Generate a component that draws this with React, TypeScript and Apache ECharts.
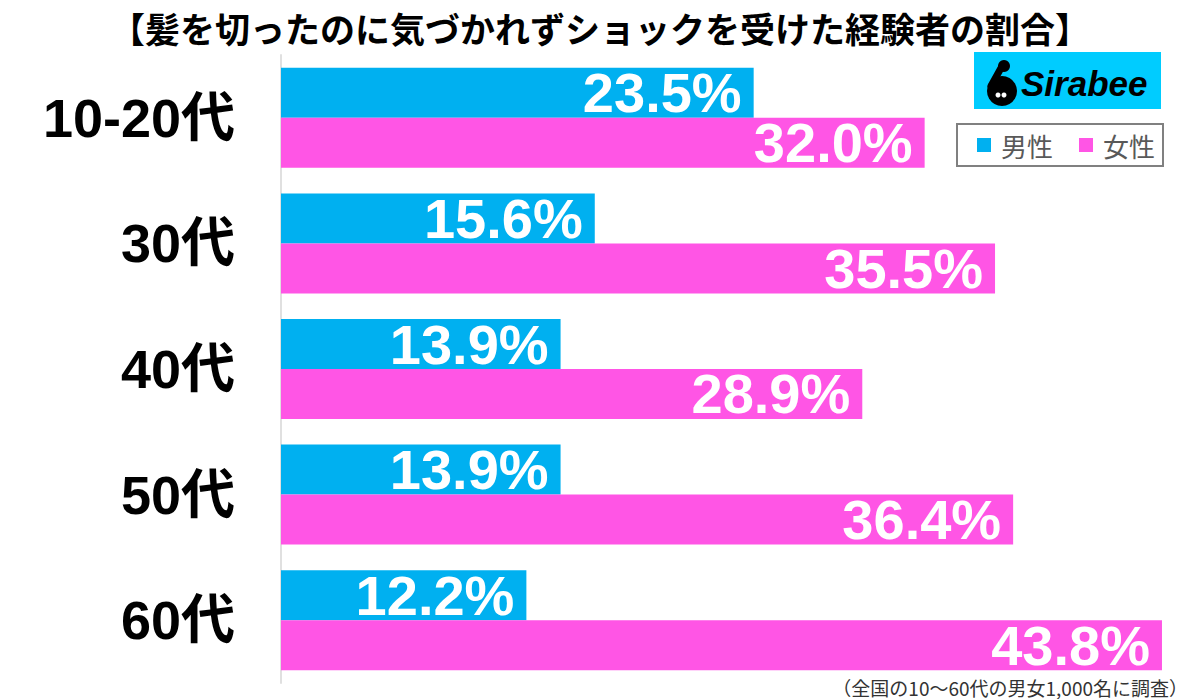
import React, { useEffect, useRef } from "react";
import * as echarts from "echarts";

const categories = ["10-20代", "30代", "40代", "50代", "60代"];
const maleValues = [23.5, 15.6, 13.9, 13.9, 12.2];
const femaleValues = [32.0, 35.5, 28.9, 36.4, 43.8];
const seriesNames = ["男性", "女性"];
const titleText = "【髪を切ったのに気づかれずショックを受けた経験者の割合】";
const noteText = "（全国の10〜60代の男女1,000名に調査）";

const BLUE = "#00B0F0";
const PINK = "#FF55E5";
const LATIN = "'Liberation Sans', Arial, 'Noto Sans CJK JP', sans-serif";
const CJK = "'Noto Sans CJK JP', sans-serif";

export default function App() {
  const ref = useRef<HTMLDivElement>(null);
  useEffect(() => {
    if (!ref.current) return;
    const chart = echarts.init(ref.current, undefined, { renderer: "svg" });
    const label = {
      show: true,
      position: "insideRight",
      distance: 12,
      color: "#fff",
      fontSize: 56,
      fontWeight: "bold",
      fontFamily: LATIN,
      formatter: (p: any) => `${Number(p.value).toFixed(1)}%`,
    };
    chart.setOption({
      animation: false,
      backgroundColor: "#fff",
      title: {
        text: titleText,
        left: "center",
        top: 5,
        textStyle: { fontSize: 35, fontWeight: "bold", fontFamily: CJK, color: "#000" },
      },
      legend: {
        data: seriesNames,
        left: 957,
        top: 124,
        icon: "rect",
        itemWidth: 14,
        itemHeight: 14,
        itemGap: 26,
        padding: [8, 8, 8, 20],
        borderColor: "#808080",
        borderWidth: 2,
        textStyle: { fontSize: 26, color: "#595959", fontFamily: CJK, padding: [0, 0, 0, 5] },
      },
      grid: { left: 281, right: 34, top: 55, bottom: 16 },
      xAxis: {
        type: "value",
        min: 0,
        max: 44,
        show: false,
      },
      yAxis: {
        type: "category",
        data: categories,
        inverse: true,
        axisLine: { show: true, lineStyle: { color: "#e0e0e0", width: 2 } },
        axisTick: { show: false },
        axisLabel: {
          margin: 46,
          fontSize: 54,
          fontWeight: "bold",
          color: "#000",
          fontFamily: LATIN,
        },
      },
      series: [
        {
          name: seriesNames[0],
          type: "bar",
          data: maleValues,
          itemStyle: { color: BLUE },
          barGap: "0%",
          barCategoryGap: "20.4%",
          label,
        },
        {
          name: seriesNames[1],
          type: "bar",
          data: femaleValues,
          itemStyle: { color: PINK },
          barGap: "0%",
          barCategoryGap: "20.4%",
          label,
        },
      ],
      graphic: [
        {
          type: "group",
          children: [
            { type: "rect", shape: { x: 974, y: 52, width: 187, height: 57 }, style: { fill: "#00CCFF" } },
            { type: "circle", shape: { cx: 1002, cy: 91, r: 15 }, style: { fill: "#000" } },
            { type: "circle", shape: { cx: 1004, cy: 66, r: 6 }, style: { fill: "#000" } },
            {
              type: "line",
              shape: { x1: 1001, y1: 68, x2: 991, y2: 86 },
              style: { stroke: "#000", lineWidth: 7, lineCap: "round" },
            },
            { type: "circle", shape: { cx: 998, cy: 95, r: 2.5 }, style: { fill: "#fff" } },
            { type: "circle", shape: { cx: 1004, cy: 95, r: 2.5 }, style: { fill: "#fff" } },
            {
              type: "text",
              x: 1021,
              y: 83,
              style: {
                text: "Sirabee",
                fill: "#000",
                fontSize: 35,
                fontWeight: "bold",
                fontStyle: "italic",
                fontFamily: LATIN,
                verticalAlign: "middle",
                align: "left",
              },
            },
          ],
        },
        {
          type: "text",
          x: 1188,
          y: 687,
          style: {
            text: noteText,
            fill: "#333",
            fontSize: 19,
            fontFamily: CJK,
            align: "right",
            verticalAlign: "middle",
          },
        },
      ],
    });
    return () => chart.dispose();
  }, []);
  return (
    <div style={{ position: "fixed", left: 0, top: 0, width: 1200, height: 699 }}>
      <div ref={ref} style={{ width: 1200, height: 699 }} />
    </div>
  );
}
